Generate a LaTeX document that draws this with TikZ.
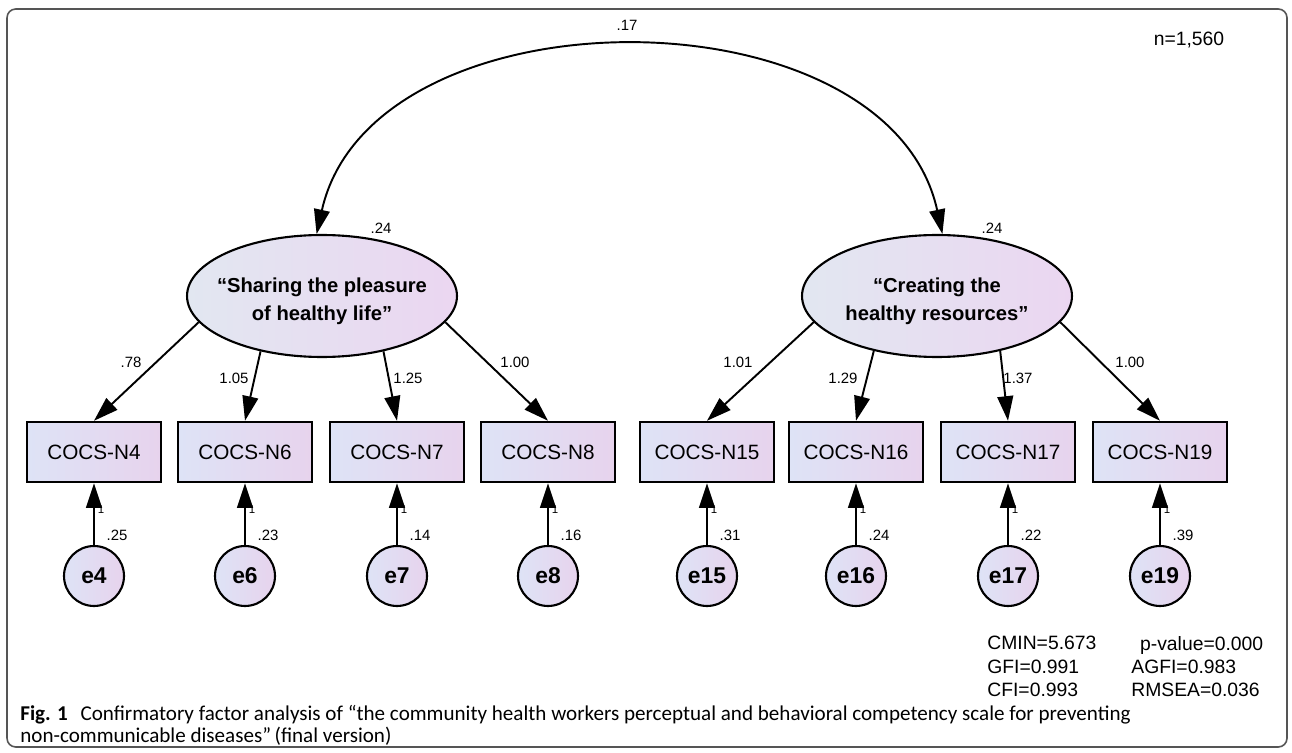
\documentclass[tikz,border=0pt]{standalone}
\usepackage{fontspec}
\setmainfont{Liberation Sans}
\newfontfamily\capfont{Carlito}
\usetikzlibrary{arrows.meta,shapes.geometric,positioning,calc}
\definecolor{shadel}{RGB}{222,227,246}
\definecolor{shader}{RGB}{231,211,237}
\definecolor{latl}{RGB}{226,231,241}
\definecolor{latr}{RGB}{235,214,241}
\definecolor{framegray}{RGB}{85,85,85}
\tikzset{
  observed/.style={draw,line width=1.4pt,minimum width=2.68cm,minimum height=1.2cm,
    left color=shadel,right color=shader,font=\fontsize{11.8}{14}\selectfont},
  latent/.style={ellipse,draw,line width=1.2pt,minimum width=5.4cm,minimum height=2.44cm,
    left color=latl,right color=latr},
  lattext/.style={font=\bfseries\fontsize{11.5}{16}\selectfont,align=center,inner sep=0pt},
  errvar/.style={circle,draw,line width=1.2pt,minimum size=1.2cm,inner sep=0pt,
    left color=shadel,right color=shader,font=\bfseries\fontsize{13}{15}\selectfont},
  load/.style={line width=1.1pt,-{Triangle[length=14pt,width=9pt]}},
  cov/.style={line width=1.1pt,{Triangle[length=14pt,width=9pt]}-{Triangle[length=14pt,width=9pt]}},
  est/.style={font=\fontsize{8.5}{10}\selectfont,inner sep=1pt},
  fixone/.style={font=\fontsize{6.5}{6.5}\selectfont,inner sep=0pt},
  fitstat/.style={font=\fontsize{11}{13.2}\selectfont,align=left,inner sep=0pt,anchor=north west}
}
\begin{document}
\begin{tikzpicture}[x=0.02cm,y=-0.02cm]
\useasboundingbox (0,0) rectangle (1292,753);
\draw[framegray,line width=0.9pt,rounded corners=5pt] (7,9) rectangle (1287,747);

% latent factors
\node[latent] (sl) at (322,296) {};
\node[lattext] (sltxt) at (322,301) {“Sharing the pleasure\\of healthy life”};
\node[latent] (cr) at (937,296) {};
\node[lattext] (crtxt) at (937,301) {“Creating the\\healthy resources”};
\node[est] (slvar) at (381,228) {.24};
\node[est] (crvar) at (992,228) {.24};

% covariance
\draw[cov] (sl.95) .. controls (372,-14) and (888,-14) .. (cr.85);
\node[est] (c17) at (627,25) {.17};

% observed items and their errors
\foreach \k/\x in {4/94,6/245,7/397,8/548,15/707,16/856,17/1008,19/1160}{
  \node[observed] (n\k) at (\x,452) {COCS-N\k};
  \node[errvar] (e\k) at (\x,576) {e\k};
}
\foreach \k/\val in {4/.25,6/.23,7/.14,8/.16,15/.31,16/.24,17/.22,19/.39}{
  \node[fixone] (f\k) at ($(n\k.south)+(7,26)$) {1};
  \draw[load] (e\k) -- (n\k);
  \node[est] (v\k) at ($(e\k)+(23,-41)$) {\val};
}

% loadings
\draw[load] (sl.192) -- (n4.north);
\draw[load] (sl.222) -- (n6.north);
\draw[load] (sl.318) -- (n7.north);
\draw[load] (sl.348) -- (n8.north);
\draw[load] (cr.192) -- (n15.north);
\draw[load] (cr.221) -- (n16.north);
\draw[load] (cr.319) -- (n17.north);
\draw[load] (cr.348) -- (n19.north);
\node[est] (l4) at (131,362) {.78};
\node[est] (l6) at (234,378) {1.05};
\node[est] (l7) at (408,378) {1.25};
\node[est] (l8) at (515,362) {1.00};
\node[est] (l15) at (738,362) {1.01};
\node[est] (l16) at (843,378) {1.29};
\node[est] (l17) at (1018,378) {1.37};
\node[est] (l19) at (1130,362) {1.00};

% sample size and fit
\node[font=\fontsize{11}{13}\selectfont] (nsize) at (1189,40) {n=1,560};
\node[fitstat] (fitl) at (987,636) {CMIN=5.673\\GFI=0.991\\CFI=0.993};
\node[fitstat] (fitr) at (1131,636) {\hspace{5pt}p-value=0.000\\AGFI=0.983\\RMSEA=0.036};

% caption
\node[font=\capfont\fontsize{12}{12.5}\selectfont,align=left,inner sep=0pt,anchor=north west] (cap) at (20,705)
  {\textbf{Fig. 1}\hspace{0.6em}Confirmatory factor analysis of “the community health workers perceptual and behavioral competency scale for preventing\\non-communicable diseases”\,(final version)};
\end{tikzpicture}
\end{document}
